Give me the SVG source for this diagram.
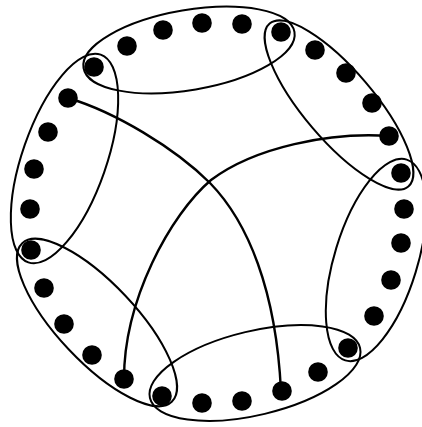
<svg xmlns="http://www.w3.org/2000/svg" width="422" height="427" viewBox="0 0 422 427">
<style>
.bg{fill:#ffffff}
.ring{fill:none;stroke:#000;stroke-width:2}
.link{fill:none;stroke:#000;stroke-width:2.4;stroke-linecap:round}
.dot{fill:#000}
</style>
<rect class="bg" x="0" y="0" width="422" height="427"/>
<g id="groups">
<ellipse id="E1" class="ring" cx="189" cy="50" rx="107" ry="40" transform="rotate(-9.7 189 50)"/>
<ellipse id="E2" class="ring" cx="339" cy="105" rx="107" ry="35" transform="rotate(49.6 339 105)"/>
<ellipse id="E3" class="ring" cx="376" cy="260" rx="105" ry="41.5" transform="rotate(107 376 260)"/>
<ellipse id="E4" class="ring" cx="255" cy="373" rx="108" ry="42" transform="rotate(-13.4 255 373)"/>
<ellipse id="E5" class="ring" cx="97" cy="322.5" rx="109" ry="39" transform="rotate(46.7 97 322.5)"/>
<ellipse id="E6" class="ring" cx="64.5" cy="158.5" rx="110" ry="42" transform="rotate(109.2 64.5 158.5)"/>
</g>
<g id="connectors">
<path class="link" d="M68,98 C115,112 175,148 210,183 C248,222 276,290 281,391"/>
<path class="link" d="M389,136 C330,132 255,147 211,180 C170,215 124,300 124,379"/>
</g>
<g id="nodes">
<circle id="n1" class="dot" cx="94" cy="67" r="9.8"/>
<circle id="n2" class="dot" cx="127" cy="46" r="9.8"/>
<circle id="n3" class="dot" cx="163" cy="30" r="9.8"/>
<circle id="n4" class="dot" cx="202" cy="23" r="9.8"/>
<circle id="n5" class="dot" cx="242" cy="24" r="9.8"/>
<circle id="n6" class="dot" cx="281" cy="32" r="9.8"/>
<circle id="n7" class="dot" cx="315" cy="50" r="9.8"/>
<circle id="n8" class="dot" cx="346" cy="73" r="9.8"/>
<circle id="n9" class="dot" cx="372" cy="103" r="9.8"/>
<circle id="n10" class="dot" cx="389" cy="136" r="9.8"/>
<circle id="n11" class="dot" cx="401" cy="173" r="9.8"/>
<circle id="n12" class="dot" cx="404" cy="209" r="9.8"/>
<circle id="n13" class="dot" cx="401" cy="243" r="9.8"/>
<circle id="n14" class="dot" cx="391" cy="280" r="9.8"/>
<circle id="n15" class="dot" cx="374" cy="316" r="9.8"/>
<circle id="n16" class="dot" cx="348" cy="348" r="9.8"/>
<circle id="n17" class="dot" cx="318" cy="372" r="9.8"/>
<circle id="n18" class="dot" cx="282" cy="391" r="9.8"/>
<circle id="n19" class="dot" cx="242" cy="401" r="9.8"/>
<circle id="n20" class="dot" cx="202" cy="403" r="9.8"/>
<circle id="n21" class="dot" cx="162" cy="396" r="9.8"/>
<circle id="n22" class="dot" cx="124" cy="379" r="9.8"/>
<circle id="n23" class="dot" cx="92" cy="355" r="9.8"/>
<circle id="n24" class="dot" cx="64" cy="324" r="9.8"/>
<circle id="n25" class="dot" cx="44" cy="288" r="9.8"/>
<circle id="n26" class="dot" cx="31" cy="250" r="9.8"/>
<circle id="n27" class="dot" cx="30" cy="209" r="9.8"/>
<circle id="n28" class="dot" cx="34" cy="169" r="9.8"/>
<circle id="n29" class="dot" cx="48" cy="132" r="9.8"/>
<circle id="n30" class="dot" cx="68" cy="98" r="9.8"/>
</g>
</svg>
